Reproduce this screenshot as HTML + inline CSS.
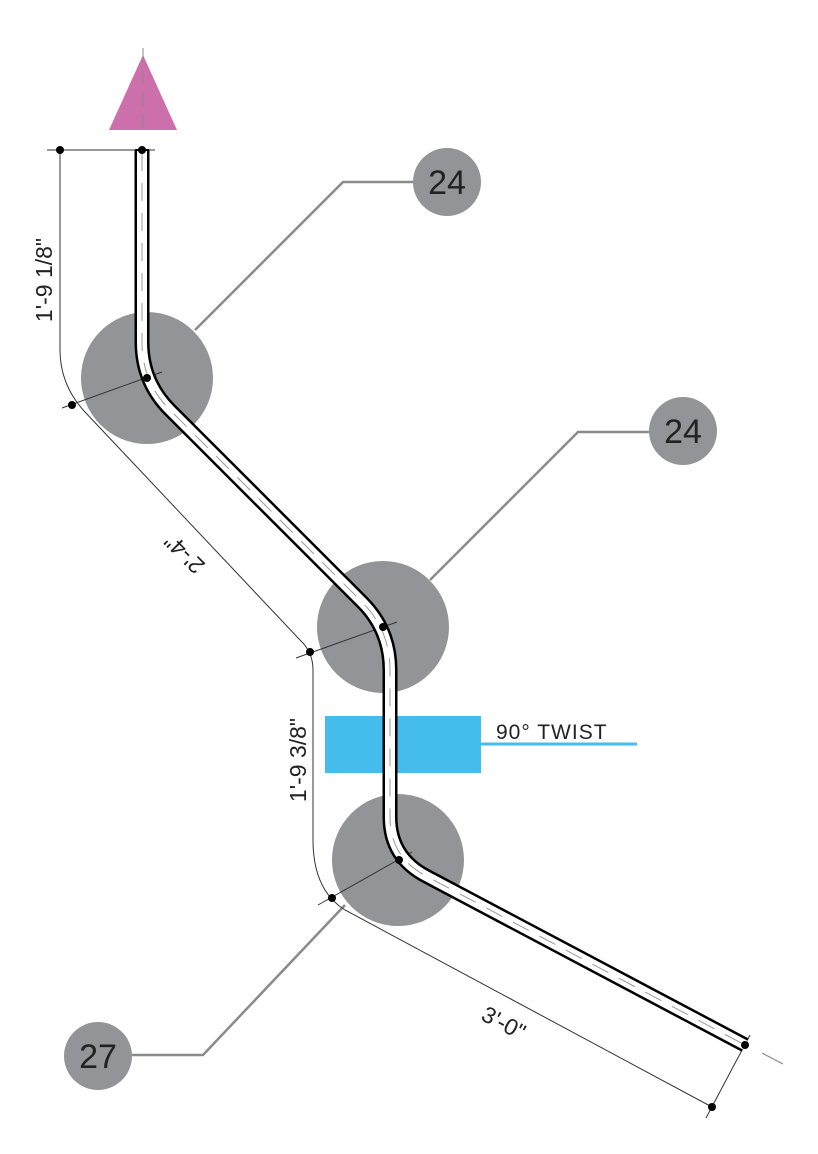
<!DOCTYPE html>
<html><head><style>html,body{margin:0;padding:0;background:#fff;}svg{display:block}</style></head>
<body>
<svg width="818" height="1154" viewBox="0 0 818 1154" xmlns="http://www.w3.org/2000/svg" font-family="Liberation Sans, sans-serif">
<rect width="818" height="1154" fill="#fff"/>
<polygon points="143,55 109,130 177,130" fill="#cc6fab"/>
<line x1="143" y1="48" x2="143" y2="130" stroke="#888" stroke-width="1" stroke-dasharray="14,8"/>
<g stroke="#8a8b8d" stroke-width="2.5" fill="none">
<polyline points="195,330 343,182 413,182"/>
<polyline points="430,580 578,432 649,432"/>
<polyline points="345,905 203,1055 132,1055"/>
</g>
<g fill="#939497">
<circle cx="147" cy="378" r="66"/>
<circle cx="383" cy="627" r="66"/>
<circle cx="398" cy="860" r="66"/>
<circle cx="447" cy="182" r="34"/>
<circle cx="683" cy="431" r="34"/>
<circle cx="98" cy="1056" r="34"/>
</g>
<g fill="#222" font-size="34" text-anchor="middle">
<text x="447" y="194">24</text>
<text x="683" y="443">24</text>
<text x="98" y="1068">27</text>
</g>
<rect x="325" y="716" width="156" height="57" fill="#45bdec"/>
<line x1="481" y1="744" x2="637" y2="744" stroke="#45bdec" stroke-width="3"/>
<text x="496" y="739" font-size="21" letter-spacing="1" fill="#222">90° TWIST</text>
<g stroke="#333" stroke-width="1" fill="none">
<line x1="47" y1="150" x2="155" y2="150"/>
<path d="M60,150 V350 Q60,385 85,412 L300,640 Q313,652 313,670 V840 Q313,890 345,910 L712,1107"/>
<line x1="62" y1="408" x2="162" y2="372"/>
<line x1="296" y1="658" x2="397" y2="622"/>
<line x1="318" y1="905" x2="412" y2="852"/>
<line x1="706" y1="1118" x2="750" y2="1035"/>
</g>
<path d="M142,150 V342 Q142,382 170,410 L362,602 Q390,630 390,670 V817 Q390,857 426,876 L745,1045" stroke="#000" stroke-width="15" fill="none"/>
<path d="M142,150 V342 Q142,382 170,410 L362,602 Q390,630 390,670 V817 Q390,857 426,876 L745,1045" stroke="#fff" stroke-width="10" fill="none"/>
<path d="M142,153 V342 Q142,382 170,410 L362,602 Q390,630 390,670 V817 Q390,857 426,876 L745,1045" stroke="#999" stroke-width="1" fill="none" stroke-dasharray="18,12"/>
<line x1="135" y1="150" x2="149" y2="150" stroke="#000" stroke-width="2"/>
<line x1="762" y1="1053" x2="783" y2="1064" stroke="#888" stroke-width="1"/>
<g fill="#000">
<circle cx="60" cy="150" r="4"/><circle cx="142" cy="150" r="4"/>
<circle cx="72" cy="405" r="4"/><circle cx="147" cy="378" r="4"/>
<circle cx="310" cy="652" r="4"/><circle cx="383" cy="627" r="4"/>
<circle cx="332" cy="898" r="4"/><circle cx="399" cy="860" r="4"/>
<circle cx="712" cy="1107" r="4"/><circle cx="745" cy="1045" r="4"/>
</g>
<g fill="#222" font-size="23" text-anchor="middle">
<text transform="translate(52,280) rotate(-90)">1'-9 1/8"</text>
<text transform="translate(306,760) rotate(-90)">1'-9 3/8"</text>
<text transform="translate(190,548) rotate(225)">2'-4"</text>
<text transform="translate(500,1030) rotate(28)">3'-0"</text>
</g>
</svg>
</body></html>
